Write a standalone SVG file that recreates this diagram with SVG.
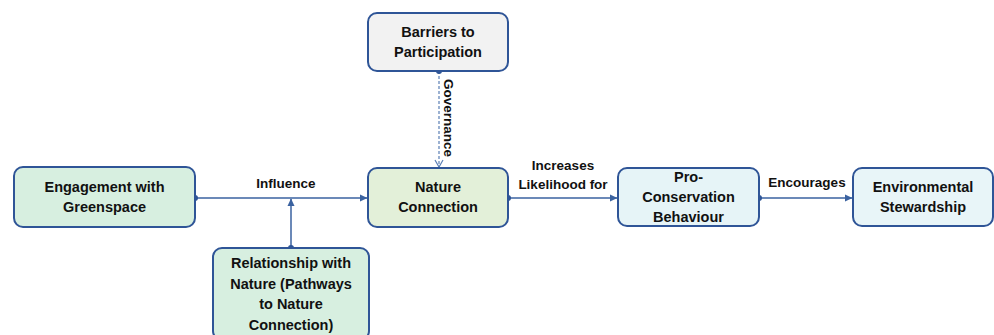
<svg xmlns="http://www.w3.org/2000/svg" width="994" height="335" viewBox="0 0 994 335">
<style>
.box{stroke:#2f5597;stroke-width:2}
.t{font-family:"Liberation Sans",Arial,sans-serif;font-weight:bold;font-size:14.5px;fill:#111;text-anchor:middle}
.l{font-family:"Liberation Sans",Arial,sans-serif;font-weight:bold;font-size:13.5px;fill:#111;text-anchor:middle}
.e{stroke:#3a62a0;stroke-width:1.5;fill:none}
.dot{fill:#2f5597}
</style>
<defs>
<marker id="ah" markerWidth="8" markerHeight="8" refX="7" refY="4" orient="auto" markerUnits="userSpaceOnUse">
<path d="M0,0.5 L7.5,4 L0,7.5 Z" fill="#3a62a0"/>
</marker>
<marker id="ao" markerWidth="10" markerHeight="10" refX="8" refY="5" orient="auto" markerUnits="userSpaceOnUse">
<path d="M1,1 L8,5 L1,9" fill="none" stroke="#5a7fb5" stroke-width="1.2"/>
</marker>
</defs>
<rect width="994" height="335" fill="#fff"/>
<g id="connectors">
<line class="e" x1="195" y1="198" x2="367" y2="198" marker-end="url(#ah)"/>
<circle class="dot" cx="195" cy="198" r="3"/>
<line class="e" x1="291" y1="248" x2="291" y2="199" marker-end="url(#ah)"/>
<circle class="dot" cx="291" cy="248" r="3"/>
<line x1="439" y1="71" x2="439" y2="167" stroke="#5a7fb5" stroke-width="1.2" stroke-dasharray="3,2" marker-end="url(#ao)"/>
<circle class="dot" cx="439" cy="71" r="3"/>
<line class="e" x1="508" y1="198" x2="617" y2="198" marker-end="url(#ah)"/>
<circle class="dot" cx="508" cy="198" r="3"/>
<line class="e" x1="759" y1="198" x2="852" y2="198" marker-end="url(#ah)"/>
<circle class="dot" cx="759" cy="198" r="3"/>
<text class="l" x="286" y="188">Influence</text>
<text class="l" transform="translate(444,118) rotate(90)">Governance</text>
<text class="l" x="563" y="170">Increases</text>
<text class="l" x="563" y="189">Likelihood for</text>
<text class="l" x="807" y="187">Encourages</text>
</g>
<g id="engagement">
<rect class="box" x="14" y="167" width="181" height="60" rx="9" fill="#d7efe0"/>
<text class="t" x="104.5" y="192">Engagement with</text>
<text class="t" x="104.5" y="212">Greenspace</text>
</g>
<g id="relationship">
<rect class="box" x="213" y="248" width="156" height="92" rx="9" fill="#d7efe0"/>
<text class="t" x="291" y="268">Relationship with</text>
<text class="t" x="291" y="289">Nature (Pathways</text>
<text class="t" x="291" y="309">to Nature</text>
<text class="t" x="291" y="330">Connection)</text>
</g>
<g id="barriers">
<rect class="box" x="368" y="13" width="140" height="58" rx="9" fill="#f2f2f2"/>
<text class="t" x="438" y="37">Barriers to</text>
<text class="t" x="438" y="57">Participation</text>
</g>
<g id="nature">
<rect class="box" x="368" y="168" width="140" height="59" rx="9" fill="#e3f0d9"/>
<text class="t" x="438" y="192">Nature</text>
<text class="t" x="438" y="212">Connection</text>
</g>
<g id="proconservation">
<rect class="box" x="618" y="168" width="141" height="58" rx="9" fill="#e6f4f7"/>
<text class="t" x="688.5" y="182">Pro-</text>
<text class="t" x="688.5" y="202">Conservation</text>
<text class="t" x="688.5" y="222">Behaviour</text>
</g>
<g id="stewardship">
<rect class="box" x="853" y="168" width="140" height="58" rx="9" fill="#e8f5f8"/>
<text class="t" x="923" y="192">Environmental</text>
<text class="t" x="923" y="212">Stewardship</text>
</g>
</svg>
